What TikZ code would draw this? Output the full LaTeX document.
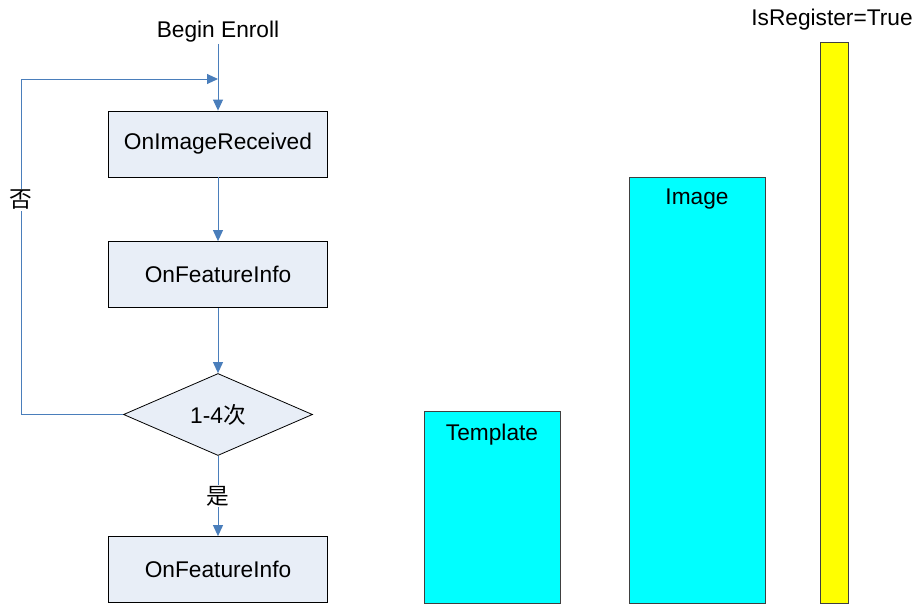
\documentclass[tikz,border=0pt]{standalone}
\usepackage{fontspec}
\setmainfont{Liberation Sans}
\newfontfamily\cjk{Noto Sans CJK SC}
\usetikzlibrary{arrows.meta,shapes.geometric,positioning}
\definecolor{flowblue}{HTML}{4A7EBB}
\definecolor{boxfill}{HTML}{E8EEF7}
\definecolor{barcyan}{HTML}{00FFFF}
\definecolor{baryellow}{HTML}{FFFF00}
\newcommand{\zh}[1]{{\cjk #1}}

\begin{document}
\begin{tikzpicture}[x=1pt,y=-1pt,
    every node/.style={font=\fontsize{22.7}{27}\selectfont},
    proc/.style={draw=black, line width=0.8pt, fill=boxfill, minimum width=219pt, minimum height=66pt, inner sep=0pt},
    cond/.style={diamond, aspect=2.3, draw=black, line width=0.8pt, fill=boxfill, minimum width=189pt, minimum height=82pt, inner sep=0pt},
    bar/.style={draw=black!75, line width=0.8pt, inner sep=0pt},
    flow/.style={draw, color=flowblue, line width=1pt, -{Triangle[length=11pt,width=10pt,fill=flowblue]}}]
      \useasboundingbox (0,0) rectangle (917,605);
      % flow chart
      \node[anchor=base, inner sep=2pt] (begin) at (218,37) {Begin Enroll};
      \node[proc] (recv) at (218,144) {OnImageReceived};
      \node[proc] (feat) at (218,274.5) {OnFeatureInfo};
      \node[cond] (cnt) at (218,414.5) {1-4\zh{次}};
      \node[proc] (feat2) at (218,569.5) {OnFeatureInfo};
      \coordinate (join) at (218,79);
      \coordinate (back) at (21,414.5);
      \path[flow] (begin) edge (recv);
      \path[flow] (recv) edge (feat);
      \path[flow] (feat) edge (cnt);
      \path[flow] (cnt) edge node[fill=white, text=black, inner sep=1pt] {\zh{是}} (feat2);
      \draw[flow] (cnt.west) -- (back) |- node[pos=0.32, fill=white, text=black, inner sep=1pt] {\zh{否}} (join);
      % bars
      \node[bar, fill=barcyan, minimum width=136pt, minimum height=192pt] (tmpl) at (492,507) {};
      \node[below=13pt of tmpl.north, inner sep=0pt] (tmpllabel) {Template};
      \node[bar, fill=barcyan, minimum width=136pt, minimum height=426pt] (img) at (697,390) {};
      \node[below=12pt of img.north, inner sep=0pt] (imglabel) {Image};
      \node[bar, fill=baryellow, minimum width=28pt, minimum height=561pt] (reg) at (834,322.5) {};
      \node[above=11pt of reg.north, xshift=-2pt, inner sep=0pt] (reglabel) {IsRegister=True};
\end{tikzpicture}
\end{document}
